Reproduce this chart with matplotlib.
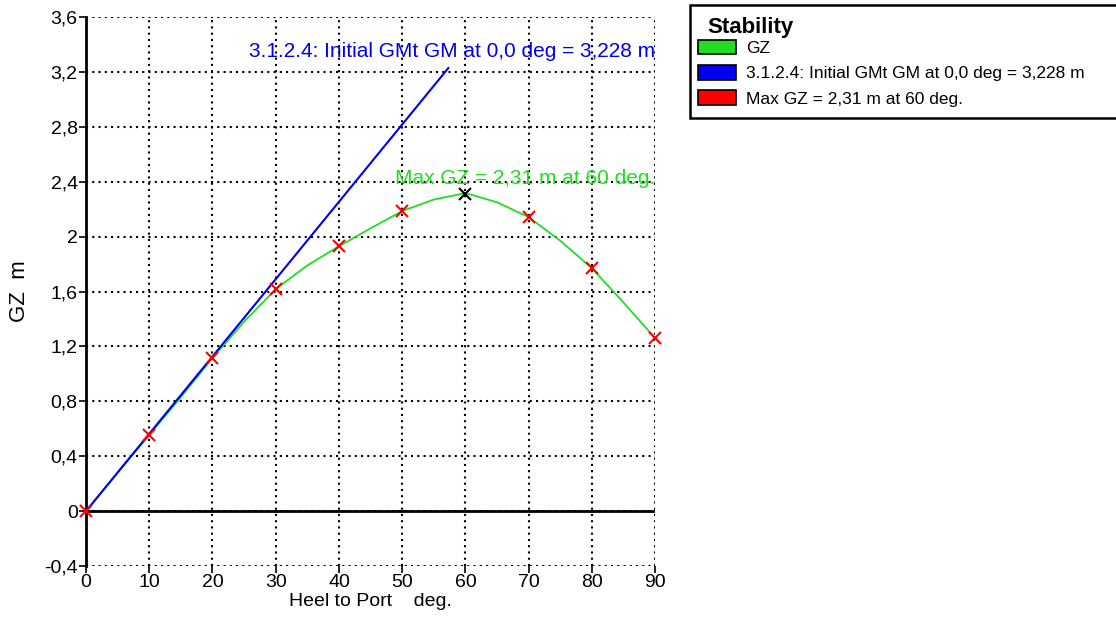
import matplotlib
matplotlib.use('Agg')
import matplotlib.pyplot as plt
from matplotlib.patches import Patch, Rectangle

plt.rcParams['font.family'] = ['Liberation Sans', 'DejaVu Sans']

# GZ curve (deg, m)
heel = [0, 5, 10, 15, 20, 25, 30, 35, 40, 45, 50, 55, 60, 65, 70, 75, 80, 85, 90]
gz = [0.0, 0.28, 0.554, 0.83, 1.115, 1.38, 1.617, 1.79, 1.93, 2.06, 2.186, 2.27, 2.317, 2.25, 2.142, 1.97, 1.77, 1.52, 1.26]

# marked points every 10 deg
mark_heel = [0, 10, 20, 30, 40, 50, 70, 80, 90]
mark_gz = [0.0, 0.554, 1.115, 1.617, 1.93, 2.186, 2.142, 1.77, 1.26]
max_heel = 60
max_gz = 2.31

gm = 3.228
gm_line_x = [0, 57.3]
gm_line_y = [0, gm]

yticks = [-0.4, 0, 0.4, 0.8, 1.2, 1.6, 2.0, 2.4, 2.8, 3.2, 3.6]
ytick_labels = ['-0,4', '0', '0,4', '0,8', '1,2', '1,6', '2', '2,4', '2,8', '3,2', '3,6']
xticks = [0, 10, 20, 30, 40, 50, 60, 70, 80, 90]

fig = plt.figure(figsize=(11.16, 6.22), dpi=100)
ax = fig.add_axes([0.0771, 0.090, 0.5099, 0.8827])

green = '#22dd22'
blue = '#0000ee'
ax.plot(heel, gz, color=green, lw=1.3, zorder=3)
ax.plot(gm_line_x, gm_line_y, color=blue, lw=1.5, zorder=3)
ax.plot(mark_heel, mark_gz, 'x', color='red', ms=9, mew=1.5, zorder=4, clip_on=False)
ax.plot([max_heel], [max_gz], 'x', color='black', ms=9, mew=1.5, zorder=4)
ax.axhline(0, color='black', lw=2, zorder=2)

ax.text(90, 3.35, '3.1.2.4: Initial GMt GM at 0,0 deg = 3,228 m', color=blue,
        ha='right', va='center', fontsize=15, zorder=5)
ax.text(90, 2.42, 'Max GZ = 2,31 m at 60 deg.', color=green,
        ha='right', va='center', fontsize=15, zorder=5)

ax.set_xlim(0, 90)
ax.set_ylim(-0.4, 3.6)
ax.set_xticks(xticks)
ax.set_yticks(yticks)
ax.set_yticklabels(ytick_labels)
ax.tick_params(labelsize=14, direction='out', length=5, width=1.2, colors='black', pad=1)
ax.grid(True, color='black', linestyle=(0, (1, 2)), lw=1.5)
for s in ['top', 'right', 'bottom']:
    ax.spines[s].set_visible(False)
ax.spines['left'].set_linewidth(2)
ax.set_axisbelow(True)

ax.set_xlabel('Heel to Port    deg.', fontsize=14, labelpad=1)
ax.set_ylabel('GZ  m', fontsize=16, labelpad=10)

# legend box runs off the right edge, as in the original
fig.patches.append(Rectangle((690 / 1116, 1 - 118 / 622), 440 / 1116, 113 / 622,
                             transform=fig.transFigure, facecolor='white',
                             edgecolor='black', lw=1.8))
fig.text(707 / 1116, 1 - 27 / 622, 'Stability', fontsize=16, fontweight='bold',
         ha='left', va='center')

handles = [Patch(facecolor=green, edgecolor='black', lw=1.2),
           Patch(facecolor=blue, edgecolor='black', lw=1.2),
           Patch(facecolor='red', edgecolor='black', lw=1.2)]
labels = ['GZ', '3.1.2.4: Initial GMt GM at 0,0 deg = 3,228 m', 'Max GZ = 2,31 m at 60 deg.']
leg = fig.legend(handles, labels, loc='upper left', bbox_to_anchor=(698 / 1116, 1 - 40 / 622),
                 fontsize=12.5, frameon=False, handlelength=2.2, handleheight=0.9,
                 handletextpad=0.55, labelspacing=0.52, borderpad=0.0, borderaxespad=0)

fig.savefig('out.png', dpi=100)
